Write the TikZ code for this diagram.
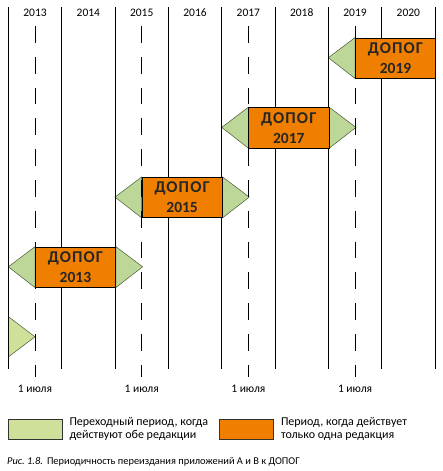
\documentclass[tikz,border=0pt]{standalone}
\usepackage{fontspec}
\setmainfont{Carlito}
\newfontfamily\dopogfont{Carlito}[LetterSpace=7]
\definecolor{dopoggreen}{HTML}{BCD797}
\definecolor{keygreen}{HTML}{CFE09A}
\definecolor{dopogorange}{HTML}{F07F00}
\definecolor{edgegreen}{HTML}{4A5A36}
\usetikzlibrary{positioning,backgrounds}

\begin{document}
\begin{tikzpicture}[
      x=1pt, y=-1pt,
      yearline/.style={black, line width=0.7pt},
      julyline/.style={black, line width=0.7pt, dash pattern=on 16.7pt off 14.1pt},
      edition/.style={draw=black, fill=dopogorange, line width=0.6pt, inner sep=0pt,
                      minimum width=80.3pt, minimum height=40.3pt, align=center,
                      text=black!85, font=\fontsize{16.5}{20}\selectfont\bfseries},
      transition/.style={draw=edgegreen, fill=dopoggreen, line width=0.5pt},
      yearlabel/.style={font=\fontsize{11.5}{13}\selectfont},
      swatch/.style={draw=black!80, line width=0.6pt, minimum width=54pt,
                     minimum height=20.3pt, inner sep=0pt},
      keytext/.style={align=left, inner sep=0pt, font=\fontsize{12}{12.6}\selectfont}
    ]
    \useasboundingbox (0,0) rectangle (443,471);
    % years
    \foreach \i in {0,...,8}
      \draw[yearline] (8.3+53.34*\i,7) -- (8.3+53.34*\i,369);
    \foreach \yr [count=\i from 0] in {2013,...,2020}
      \node[yearlabel] (year\yr) at (35+53.34*\i,12.5) {\yr};
    % 1 july
    \foreach \i in {0,...,3} {
      \draw[julyline] (35+106.68*\i,26) -- (35+106.68*\i,377);
      \node[yearlabel] (july\i) at (35+106.68*\i,389) {1 июля};
    }
    % editions
    \foreach \yr [count=\k from 0] in {2013,2015,2017,2019}
      \node[edition, anchor=west] (dopog\yr) at (35+106.68*\k,267.1-69.7*\k)
        {{\dopogfont\bfseries ДОПОГ}\\{\fontsize{15.5}{20}\selectfont\yr}};
    \begin{scope}[on background layer]
      \foreach \yr in {2013,2015,2017,2019}
        \path[transition] (dopog\yr.north west) -- ++(-26.67,20.15) -- (dopog\yr.south west) -- cycle;
      \foreach \yr in {2013,2015,2017}
        \path[transition] (dopog\yr.north east) -- ++(26.67,20.15) -- (dopog\yr.south east) -- cycle;
      \path[transition, fill=keygreen] (8.3,316.6) -- (35,336.8) -- (8.3,357) -- cycle;
    \end{scope}
    % legend
    \node[swatch, fill=keygreen] (keytrans) at (35,429.2) {};
    \node[keytext, right=7pt of keytrans] (keytranstext) {Переходный период, когда\\действуют обе редакции};
    \node[swatch, fill=dopogorange] (keyedit) at (246.5,429.2) {};
    \node[keytext, right=7pt of keyedit] (keyedittext) {Период, когда действует\\только одна редакция};
    \node[anchor=base west, inner sep=0pt, font=\fontsize{10.4}{12}\selectfont] (caption) at (7,464.4)
      {\textit{Рис.~1.8.}\hspace{4pt}Периодичность переиздания приложений А и В к ДОПОГ};
  \end{tikzpicture}
\end{document}
